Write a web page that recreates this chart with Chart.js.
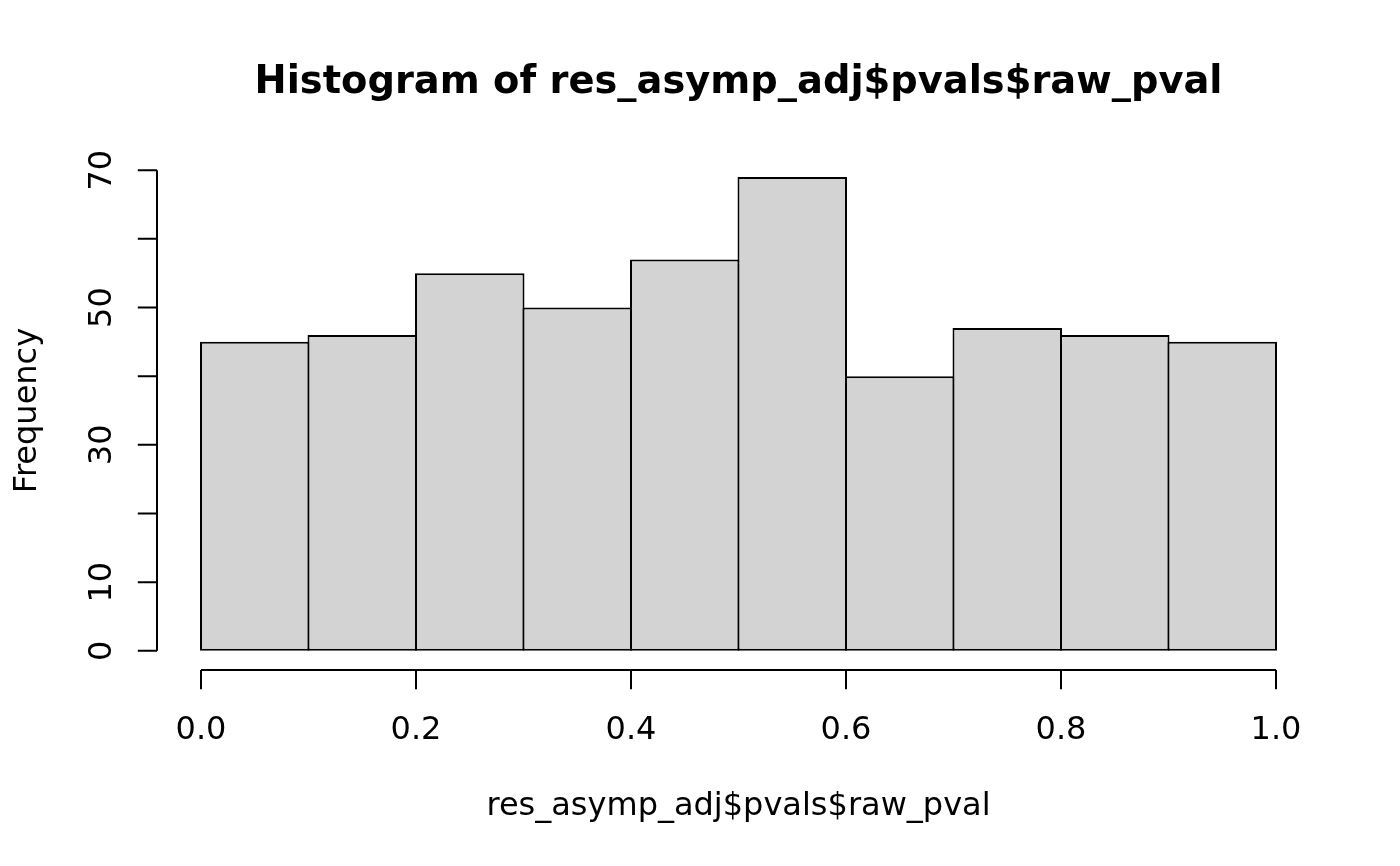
<!DOCTYPE html>
<html>
<head>
<meta charset="utf-8">
<script src="https://cdn.jsdelivr.net/npm/chart.js@4/dist/chart.umd.min.js"></script>
<style>
  body { margin: 0; background: #fff; }
  canvas { display: block; }
</style>
</head>
<body>
<canvas id="hist" width="1400" height="866"></canvas>
<script>
const breaks = [0, 0.1, 0.2, 0.3, 0.4, 0.5, 0.6, 0.7, 0.8, 0.9, 1.0];
const counts = [45, 46, 55, 50, 57, 69, 40, 47, 46, 45];
const xTicks = [0, 0.2, 0.4, 0.6, 0.8, 1.0];
const xTickLabels = ['0.0', '0.2', '0.4', '0.6', '0.8', '1.0'];
const yTicks = [0, 10, 20, 30, 40, 50, 60, 70];
const yTickLabels = ['0', '10', '', '30', '', '50', '', '70'];

const mainTitle = 'Histogram of res_asymp_adj$pvals$raw_pval';
const xTitle = 'res_asymp_adj$pvals$raw_pval';
const yTitle = 'Frequency';

const FONT = '"DejaVu Sans", sans-serif';

const bars = counts.map((c, i) => ({ x: (breaks[i] + breaks[i + 1]) / 2, y: c }));

// R style axes: detached from the plot box, only spanning the tick range
const rAxes = {
  id: 'rAxes',
  afterDraw(chart) {
    const ctx = chart.ctx;
    const xs = chart.scales.x, ys = chart.scales.y;
    const area = chart.chartArea;
    const tick = 19.2;
    ctx.save();
    ctx.strokeStyle = '#000';
    ctx.fillStyle = '#000';
    ctx.lineWidth = 2;

    // x axis
    const ax = area.bottom;
    ctx.beginPath();
    ctx.moveTo(xs.getPixelForValue(xTicks[0]), ax);
    ctx.lineTo(xs.getPixelForValue(xTicks[xTicks.length - 1]), ax);
    xTicks.forEach(v => {
      const px = xs.getPixelForValue(v);
      ctx.moveTo(px, ax);
      ctx.lineTo(px, ax + tick);
    });
    ctx.stroke();
    ctx.font = '32px ' + FONT;
    ctx.textAlign = 'center';
    ctx.textBaseline = 'alphabetic';
    xTicks.forEach((v, i) => ctx.fillText(xTickLabels[i], xs.getPixelForValue(v), 739));

    // y axis
    const ay = area.left - 1;
    ctx.beginPath();
    ctx.moveTo(ay, ys.getPixelForValue(yTicks[0]));
    ctx.lineTo(ay, ys.getPixelForValue(yTicks[yTicks.length - 1]));
    yTicks.forEach(v => {
      const py = ys.getPixelForValue(v);
      ctx.moveTo(ay, py);
      ctx.lineTo(ay - tick, py);
    });
    ctx.stroke();
    yTicks.forEach((v, i) => {
      if (!yTickLabels[i]) return;
      ctx.save();
      ctx.translate(111, ys.getPixelForValue(v));
      ctx.rotate(-Math.PI / 2);
      ctx.fillText(yTickLabels[i], 0, 0);
      ctx.restore();
    });

    // titles
    const cx = (area.left + area.right) / 2;
    ctx.fillText(xTitle, cx, 815);
    ctx.save();
    ctx.translate(36, (area.top + area.bottom) / 2);
    ctx.rotate(-Math.PI / 2);
    ctx.fillText(yTitle, 0, 0);
    ctx.restore();
    ctx.font = 'bold 38.4px ' + FONT;
    ctx.fillText(mainTitle, cx, 93);
    ctx.restore();
  }
};

new Chart(document.getElementById('hist'), {
  type: 'bar',
  data: {
    datasets: [{
      data: bars,
      backgroundColor: '#d3d3d3',
      borderColor: '#000',
      borderWidth: 2,
      borderSkipped: false,
      barPercentage: 1.0186,
      categoryPercentage: 1
    }]
  },
  options: {
    responsive: false,
    animation: false,
    devicePixelRatio: 1,
    layout: { padding: { left: 158, right: 81, top: 151, bottom: 196 } },
    plugins: { legend: { display: false }, tooltip: { enabled: false }, title: { display: false } },
    scales: {
      x: {
        type: 'linear', min: -0.04, max: 1.04, offset: false, display: false,
        // ticks on the bin breaks so the bar ruler gets the bin width
        afterBuildTicks: s => { s.ticks = breaks.map(v => ({ value: v })); }
      },
      y: { type: 'linear', min: -2.8, max: 72.8, display: false }
    }
  },
  plugins: [rAxes]
});
</script>
</body>
</html>
